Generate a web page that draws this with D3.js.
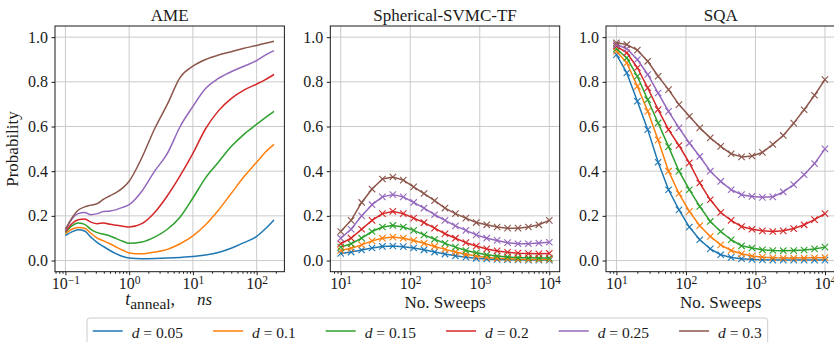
<!DOCTYPE html>
<html>
<head>
<meta charset="utf-8">
<script src="https://cdn.jsdelivr.net/npm/d3@7"></script>
<style>
  body { margin: 0; background: #fff; }
  text { font-family: 'Liberation Serif', serif; fill: #1a1a1a; }
</style>
</head>
<body>
<svg id="chart" width="834" height="342"></svg>
<script>
// ---- data ----
const dLabels = ['0.05', '0.1', '0.15', '0.2', '0.25', '0.3'];

// AME: probability vs annealing time (ns)
const tAnneal = [0.1, 0.126, 0.158, 0.2, 0.251, 0.316, 0.398, 0.501, 0.631, 0.794, 1,
  1.58, 2.51, 3.98, 6.31, 10, 15.8, 25.1, 39.8, 63.1, 100, 137, 187];
const ameD005 = [0.112, 0.128, 0.138, 0.132, 0.105, 0.08, 0.062, 0.045, 0.03, 0.018, 0.011,
  0.008, 0.009, 0.011, 0.014, 0.018, 0.025, 0.036, 0.055, 0.08, 0.108, 0.142, 0.182];
const ameD010 = [0.12, 0.14, 0.148, 0.145, 0.122, 0.1, 0.088, 0.075, 0.06, 0.046, 0.034,
  0.03, 0.038, 0.05, 0.075, 0.11, 0.16, 0.225, 0.3, 0.375, 0.44, 0.485, 0.52];
const ameD015 = [0.125, 0.155, 0.168, 0.162, 0.14, 0.125, 0.118, 0.11, 0.098, 0.086, 0.077,
  0.083, 0.105, 0.14, 0.195, 0.28, 0.37, 0.44, 0.51, 0.565, 0.61, 0.64, 0.668];
const ameD020 = [0.13, 0.165, 0.183, 0.186, 0.172, 0.165, 0.168, 0.162, 0.158, 0.154, 0.15,
  0.165, 0.215, 0.29, 0.38, 0.48, 0.59, 0.67, 0.725, 0.763, 0.79, 0.81, 0.833];
const ameD025 = [0.135, 0.185, 0.21, 0.215, 0.205, 0.21, 0.22, 0.222, 0.228, 0.238, 0.25,
  0.31, 0.4, 0.48, 0.6, 0.69, 0.77, 0.815, 0.845, 0.87, 0.895, 0.92, 0.94];
const ameD030 = [0.14, 0.19, 0.225, 0.24, 0.248, 0.255, 0.275, 0.29, 0.305, 0.325, 0.355,
  0.46, 0.59, 0.7, 0.82, 0.87, 0.9, 0.92, 0.935, 0.95, 0.963, 0.973, 0.982];

// Spherical-SVMC-TF and SQA: probability vs number of sweeps
const sweeps = [10, 14.1, 20, 28.2, 39.8, 56.2, 79.4, 112, 158, 224, 316, 447, 631, 891,
  1259, 1778, 2512, 3548, 5012, 7079, 10000];
const svmcD005 = [0.032, 0.038, 0.047, 0.056, 0.063, 0.065, 0.062, 0.056, 0.048, 0.038, 0.029,
  0.021, 0.015, 0.01, 0.007, 0.005, 0.004, 0.003, 0.002, 0.002, 0.002];
const svmcD010 = [0.045, 0.055, 0.07, 0.088, 0.1, 0.105, 0.1, 0.09, 0.077, 0.063, 0.05,
  0.038, 0.028, 0.02, 0.014, 0.01, 0.008, 0.006, 0.005, 0.005, 0.005];
const svmcD015 = [0.06, 0.075, 0.1, 0.13, 0.15, 0.157, 0.15, 0.135, 0.115, 0.095, 0.077,
  0.06, 0.045, 0.035, 0.026, 0.02, 0.016, 0.013, 0.012, 0.011, 0.011];
const svmcD020 = [0.075, 0.1, 0.14, 0.18, 0.21, 0.22, 0.21, 0.19, 0.17, 0.145, 0.12,
  0.1, 0.08, 0.065, 0.052, 0.043, 0.037, 0.033, 0.031, 0.03, 0.032];
const svmcD025 = [0.1, 0.14, 0.2, 0.25, 0.285, 0.295, 0.285, 0.26, 0.235, 0.205, 0.18,
  0.155, 0.135, 0.115, 0.1, 0.09, 0.08, 0.075, 0.075, 0.078, 0.082];
const svmcD030 = [0.13, 0.18, 0.26, 0.32, 0.365, 0.374, 0.36, 0.33, 0.3, 0.268, 0.235,
  0.21, 0.19, 0.17, 0.16, 0.15, 0.145, 0.145, 0.15, 0.16, 0.18];

const sqaD005 = [0.922, 0.84, 0.713, 0.586, 0.44, 0.317, 0.227, 0.15, 0.093, 0.052, 0.026,
  0.014, 0.008, 0.005, 0.003, 0.002, 0.002, 0.002, 0.002, 0.002, 0.002];
const sqaD010 = [0.937, 0.885, 0.78, 0.668, 0.54, 0.4, 0.3, 0.22, 0.156, 0.108, 0.07,
  0.045, 0.03, 0.02, 0.015, 0.012, 0.011, 0.011, 0.011, 0.012, 0.013];
const sqaD015 = [0.948, 0.907, 0.825, 0.72, 0.616, 0.51, 0.4, 0.317, 0.242, 0.175, 0.13,
  0.093, 0.066, 0.056, 0.048, 0.045, 0.044, 0.045, 0.047, 0.052, 0.06];
const sqaD020 = [0.96, 0.93, 0.863, 0.773, 0.676, 0.586, 0.515, 0.437, 0.347, 0.272, 0.215,
  0.18, 0.152, 0.14, 0.133, 0.13, 0.133, 0.143, 0.16, 0.183, 0.21];
const sqaD025 = [0.967, 0.948, 0.9, 0.833, 0.75, 0.668, 0.594, 0.526, 0.466, 0.4, 0.354,
  0.317, 0.295, 0.287, 0.283, 0.285, 0.307, 0.34, 0.384, 0.434, 0.5];
const sqaD030 = [0.975, 0.967, 0.942, 0.892, 0.825, 0.765, 0.698, 0.646, 0.594, 0.549, 0.511,
  0.478, 0.464, 0.468, 0.484, 0.52, 0.56, 0.615, 0.675, 0.74, 0.81];

const yTicks = [0, 0.2, 0.4, 0.6, 0.8, 1.0];

// ---- styles / layout ----
const colors = ['#1f77b4', '#ff7f0e', '#2ca02c', '#d62728', '#9467bd', '#8c564b'];
const plotTop = 26, plotBottom = 271.7, panelW = 229.4;
const gridColor = '#cbcbcb', spineColor = '#1a1a1a';

const panels = [
  { title: 'AME', left: 55, xs: tAnneal, ys: [ameD005, ameD010, ameD015, ameD020, ameD025, ameD030], marks: false },
  { title: 'Spherical-SVMC-TF', left: 330.3, xs: sweeps, ys: [svmcD005, svmcD010, svmcD015, svmcD020, svmcD025, svmcD030], marks: true },
  { title: 'SQA', left: 606, xs: sweeps, ys: [sqaD005, sqaD010, sqaD015, sqaD020, sqaD025, sqaD030], marks: true },
];

const svg = d3.select('#chart');
const yScale = d3.scaleLinear().domain([-0.05, 1.05]).range([plotBottom, plotTop]);

panels.forEach(p => {
  // log extent padded by 5% each side, like matplotlib
  const lo = Math.log10(d3.min(p.xs)), hi = Math.log10(d3.max(p.xs));
  const pad = (hi - lo) * 0.05;
  const x = d3.scaleLog().domain([10 ** (lo - pad), 10 ** (hi + pad)]).range([p.left, p.left + panelW]);
  const [d0, d1] = x.domain();

  const majors = [], minors = [];
  for (let e = Math.floor(Math.log10(d0)); e <= Math.ceil(Math.log10(d1)); e++) {
    for (let k = 1; k < 10; k++) {
      const v = k * 10 ** e;
      if (v < d0 || v > d1) continue;
      (k === 1 ? majors : minors).push(v);
    }
  }

  const g = svg.append('g');

  // grid
  g.append('g').selectAll('line').data(majors).join('line')
    .attr('x1', d => x(d)).attr('x2', d => x(d)).attr('y1', plotTop).attr('y2', plotBottom)
    .attr('stroke', gridColor).attr('stroke-width', 1);
  g.append('g').selectAll('line').data(yTicks).join('line')
    .attr('x1', p.left).attr('x2', p.left + panelW).attr('y1', d => yScale(d)).attr('y2', d => yScale(d))
    .attr('stroke', gridColor).attr('stroke-width', 1);

  // series
  const line = d3.line()
    .x((d, i) => x(p.xs[i]))
    .y(d => yScale(d))
    .curve(p.marks ? d3.curveLinear : d3.curveMonotoneX);

  p.ys.forEach((vals, si) => {
    g.append('path')
      .attr('d', line(vals))
      .attr('fill', 'none')
      .attr('stroke', colors[si])
      .attr('stroke-width', 1.5)
      .attr('stroke-linejoin', 'round');
    if (p.marks) {
      g.append('g').selectAll('path').data(vals).join('path')
        .attr('transform', (d, i) => `translate(${x(p.xs[i])},${yScale(d)})`)
        .attr('d', 'M-3.2,-3.2L3.2,3.2M-3.2,3.2L3.2,-3.2')
        .attr('stroke', colors[si])
        .attr('stroke-width', 1.1);
    }
  });

  // spines
  g.append('rect')
    .attr('x', p.left).attr('y', plotTop).attr('width', panelW).attr('height', plotBottom - plotTop)
    .attr('fill', 'none').attr('stroke', spineColor).attr('stroke-width', 1);

  // x axis (major + minor)
  const xAxis = g.append('g').attr('transform', `translate(0,${plotBottom})`)
    .call(d3.axisBottom(x).tickValues(majors).tickSize(3.5).tickPadding(3).tickFormat(() => ''));
  xAxis.select('.domain').remove();
  xAxis.selectAll('.tick line').attr('stroke', spineColor);
  xAxis.selectAll('.tick text').each(function (d) {
    const t = d3.select(this).attr('font-size', 16).attr('font-family', null).attr('dy', '0.68em');
    const e = Math.round(Math.log10(d));
    t.append('tspan').text('10');
    t.append('tspan').attr('dy', '-0.42em').attr('font-size', 11.5)
      .text(e < 0 ? '\u2212' + Math.abs(e) : String(e));
  });
  const xMinor = g.append('g').attr('transform', `translate(0,${plotBottom})`)
    .call(d3.axisBottom(x).tickValues(minors).tickSize(2).tickFormat(() => ''));
  xMinor.select('.domain').remove();
  xMinor.selectAll('.tick line').attr('stroke', spineColor);

  // y axis
  const yAxis = g.append('g').attr('transform', `translate(${p.left},0)`)
    .call(d3.axisLeft(yScale).tickValues(yTicks).tickSize(3.5).tickPadding(3.5).tickFormat(d3.format('.1f')));
  yAxis.select('.domain').remove();
  yAxis.selectAll('.tick line').attr('stroke', spineColor);
  yAxis.selectAll('.tick text').attr('font-size', 16).attr('font-family', null);

  // title
  svg.append('text')
    .attr('x', p.left + panelW / 2).attr('y', 20.7)
    .attr('text-anchor', 'middle').attr('font-size', 17)
    .text(p.title);
});

// axis labels
svg.append('text')
  .attr('transform', 'translate(18,149) rotate(-90)')
  .attr('text-anchor', 'middle').attr('font-size', 17)
  .text('Probability');

[panels[1], panels[2]].forEach(p => {
  svg.append('text')
    .attr('x', p.left + panelW / 2).attr('y', 307.5)
    .attr('text-anchor', 'middle').attr('font-size', 17)
    .text('No. Sweeps');
});

const tLabel = svg.append('text')
  .attr('x', panels[0].left + panelW / 2 - 1).attr('y', 304.5)
  .attr('text-anchor', 'middle').attr('font-size', 18);
tLabel.append('tspan').attr('font-style', 'italic').text('t');
tLabel.append('tspan').attr('font-size', 15.5).attr('dy', 4.5).text('anneal');
tLabel.append('tspan').attr('dy', -4.5).text(',');
tLabel.append('tspan').attr('font-style', 'italic').attr('dx', 22).attr('font-size', 17).text('ns');

// legend
const legend = svg.append('g');
const legendBox = legend.append('rect')
  .attr('x', 87).attr('y', 318).attr('height', 30).attr('rx', 3)
  .attr('fill', '#fff').attr('fill-opacity', 0.8)
  .attr('stroke', '#cccccc').attr('stroke-width', 1);
let lx = 92.7;
dLabels.forEach((lab, i) => {
  legend.append('line')
    .attr('x1', lx).attr('x2', lx + 30).attr('y1', 331).attr('y2', 331)
    .attr('stroke', colors[i]).attr('stroke-width', 1.5);
  const txt = legend.append('text').attr('x', lx + 39).attr('y', 337.5).attr('font-size', 15.5);
  txt.append('tspan').attr('font-style', 'italic').text('d');
  txt.append('tspan').text(' = ' + lab);
  lx = lx + 39 + txt.node().getComputedTextLength() + 30;
});
legendBox.attr('width', lx - 30 + 6 - 87);
</script>
</body>
</html>
